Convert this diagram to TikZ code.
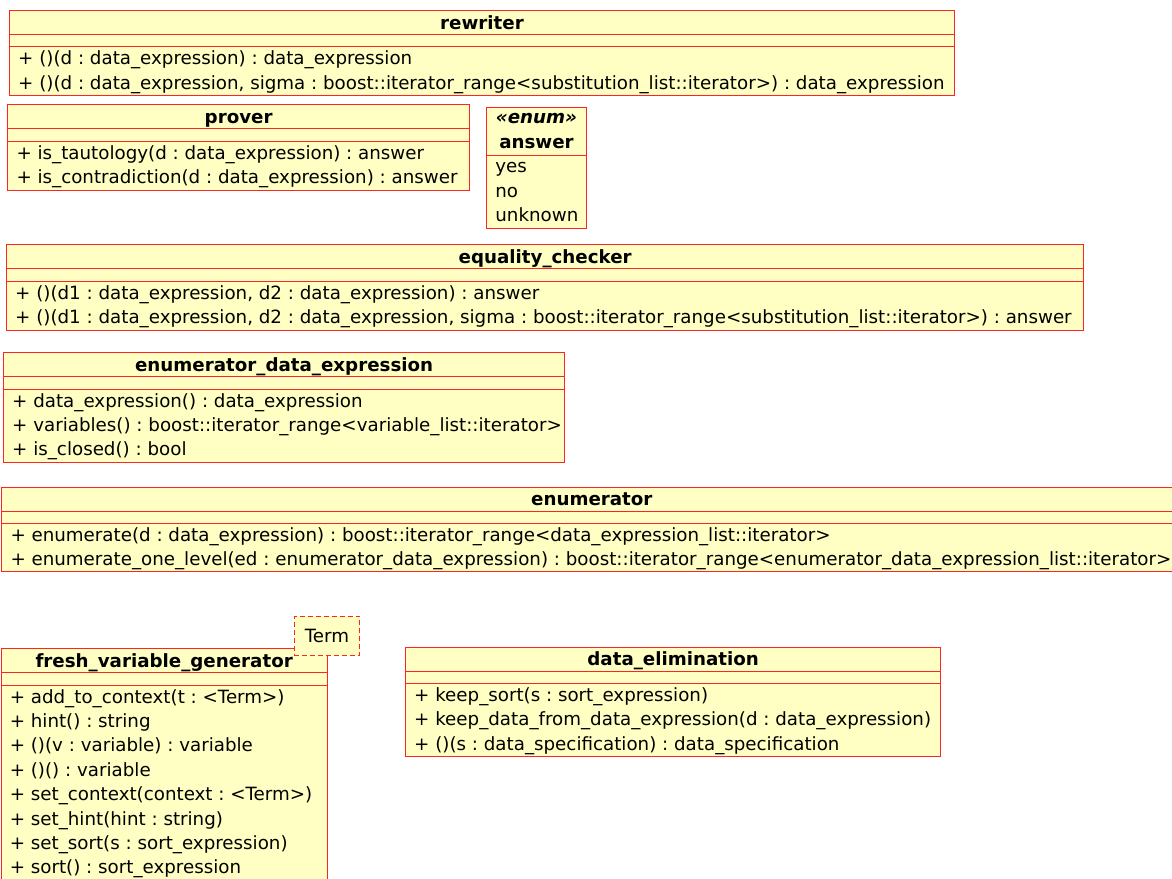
\documentclass[tikz,border=0pt]{standalone}
\usepackage{fontspec}
\setmainfont{DejaVu Sans}
\usetikzlibrary{positioning}
\definecolor{umlred}{HTML}{FF2424}
\definecolor{umlfill}{HTML}{FFFFC4}

\begin{document}
\frenchspacing
\begin{tikzpicture}[x=1pt, y=-1pt]
	\tikzstyle{cls}=[draw=umlred, fill=umlfill, line width=1pt, anchor=north west, inner sep=0pt];
	\tikzstyle{ttl}=[font=\fontsize{18.25}{24.4}\selectfont\bfseries, inner sep=0pt, anchor=base];
	\tikzstyle{stereo}=[font=\fontsize{18.25}{24.4}\selectfont\bfseries\itshape, inner sep=0pt, anchor=base];
	\tikzstyle{op}=[font=\fontsize{18.25}{24.4}\selectfont, inner sep=0pt, anchor=base west];
	\tikzstyle{sep}=[draw=umlred, line width=1pt];
	\useasboundingbox (0,0) rectangle (1172,878);
	\clip (0,0) rectangle (1172,878);
	% class boxes: name / left / top / width / height / title
	\foreach \n/\x/\y/\w/\h/\name in {
		rewriter/9/10/945/85.3/rewriter,
		prover/7.3/104.3/461.7/85.4/prover,
		eqchecker/6/244.3/1077.3/85.4/equality\_checker,
		enumde/3/352.3/561.3/110/enumerator\_data\_expression,
		enumerator/1.3/486.7/1180/84.3/enumerator,
		freshgen/0.6/648.3/326.1/240/fresh\_variable\_generator,
		dataelim/405/646.7/535.3/109.3/data\_elimination}
	{
		\node[cls, minimum width=\w pt, minimum height=\h pt] (\n) at (\x,\y) {};
		\draw[sep] ([yshift=-24.4pt]\n.north west) -- ([yshift=-24.4pt]\n.north east)
			([yshift=-36.7pt]\n.north west) -- ([yshift=-36.7pt]\n.north east);
		\node[ttl] (\n-title) at ([yshift=-19pt]\n.north) {\name};
	}
	% operations
	\foreach \s [count=\i from 0] in {
		{+ ()(d : data\_expression) : data\_expression},
		{+ ()(d : data\_expression, sigma : boost::iterator\_range<substitution\_list::iterator>) : data\_expression}}
		\node[op] (rewriter-op\i) at ([xshift=9pt, yshift={-54.7pt-24.4pt*\i}]rewriter.north west) {\s};
	\foreach \s [count=\i from 0] in {
		{+ is\_tautology(d : data\_expression) : answer},
		{+ is\_contradiction(d : data\_expression) : answer}}
		\node[op] (prover-op\i) at ([xshift=9pt, yshift={-54.7pt-24.4pt*\i}]prover.north west) {\s};
	\foreach \s [count=\i from 0] in {
		{+ ()(d1 : data\_expression, d2 : data\_expression) : answer},
		{+ ()(d1 : data\_expression, d2 : data\_expression, sigma : boost::iterator\_range<substitution\_list::iterator>) : answer}}
		\node[op] (eqchecker-op\i) at ([xshift=9pt, yshift={-54.7pt-24.4pt*\i}]eqchecker.north west) {\s};
	\foreach \s [count=\i from 0] in {
		{+ data\_expression() : data\_expression},
		{+ variables() : boost::iterator\_range<variable\_list::iterator>},
		{+ is\_closed() : bool}}
		\node[op] (enumde-op\i) at ([xshift=9pt, yshift={-54.7pt-24.4pt*\i}]enumde.north west) {\s};
	\foreach \s [count=\i from 0] in {
		{+ enumerate(d : data\_expression) : boost::iterator\_range<data\_expression\_list::iterator>},
		{+ enumerate\_one\_level(ed : enumerator\_data\_expression) : boost::iterator\_range<enumerator\_data\_expression\_list::iterator>}}
		\node[op] (enumerator-op\i) at ([xshift=9pt, yshift={-54.7pt-24.4pt*\i}]enumerator.north west) {\s};
	\foreach \s [count=\i from 0] in {
		{+ add\_to\_context(t : <Term>)},
		{+ hint() : string},
		{+ ()(v : variable) : variable},
		{+ ()() : variable},
		{+ set\_context(context : <Term>)},
		{+ set\_hint(hint : string)},
		{+ set\_sort(s : sort\_expression)},
		{+ sort() : sort\_expression}}
		\node[op] (freshgen-op\i) at ([xshift=9pt, yshift={-54.7pt-24.4pt*\i}]freshgen.north west) {\s};
	\foreach \s [count=\i from 0] in {
		{+ keep\_sort(s : sort\_expression)},
		{+ keep\_data\_from\_data\_expression(d : data\_expression)},
		{+ ()(s : data\_specification) : data\_specification}}
		\node[op] (dataelim-op\i) at ([xshift=9pt, yshift={-54.7pt-24.4pt*\i}]dataelim.north west) {\s};
	% enum
	\node[cls, minimum width=100.6pt, minimum height=120.7pt] (answer) at (485.7,107) {};
	\draw[sep] ([yshift=-48pt]answer.north west) -- ([yshift=-48pt]answer.north east);
	\node[stereo] (answer-stereo) at ([yshift=-16.3pt]answer.north) {«enum»};
	\node[ttl] (answer-title) at ([yshift=-41.3pt]answer.north) {answer};
	\foreach \s [count=\i from 0] in {yes, no, unknown}
		\node[op] (answer-op\i) at ([xshift=9.5pt, yshift={-65.9pt-24.2pt*\i}]answer.north west) {\s};
	% template parameter
	\node[cls, dashed, dash pattern=on 5pt off 3pt, minimum width=65.6pt, minimum height=39.3pt,
		font=\fontsize{18.25}{24.4}\selectfont] (term) at (293.7,615.7) {Term};
\end{tikzpicture}
\end{document}
